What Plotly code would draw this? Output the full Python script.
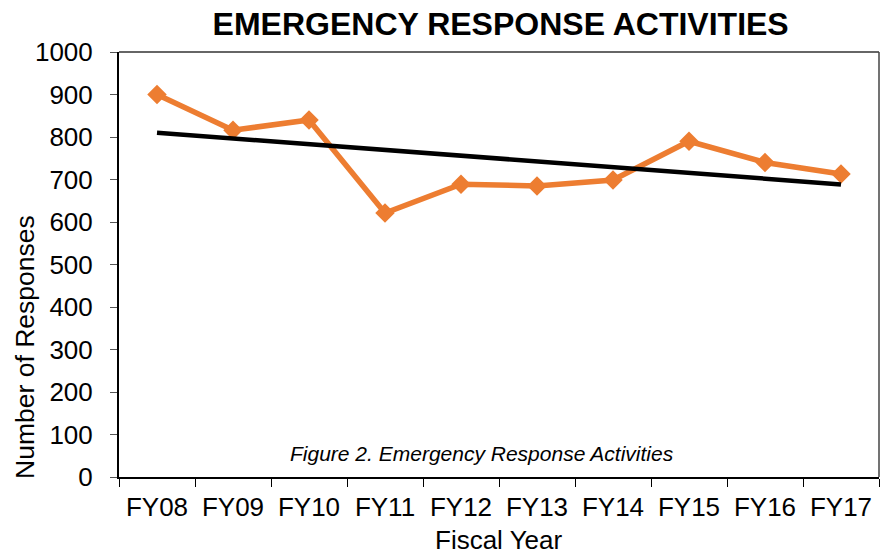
import numpy as np
import plotly.graph_objects as go

categories = ["FY08", "FY09", "FY10", "FY11", "FY12", "FY13", "FY14", "FY15", "FY16", "FY17"]
responses = [900, 816, 840, 621, 689, 685, 699, 790, 740, 713]

# Linear trendline fitted to the data (as in the original spreadsheet chart)
xi = np.arange(len(responses))
slope, intercept = np.polyfit(xi, responses, 1)
trend = (slope * xi + intercept).tolist()

FONT = "Liberation Sans, Arial, sans-serif"

fig = go.Figure()
fig.add_trace(go.Scatter(
    x=categories, y=responses, mode="lines+markers",
    line=dict(color="#ED7D31", width=5.5),
    marker=dict(symbol="diamond", size=15, color="#ED7D31"),
    showlegend=False,
))
fig.add_trace(go.Scatter(
    x=categories, y=trend, mode="lines",
    line=dict(color="#000000", width=4.5),
    showlegend=False,
))

fig.update_layout(
    width=883, height=556,
    margin=dict(l=119, r=4, t=52, b=79),
    paper_bgcolor="white", plot_bgcolor="white",
    font=dict(family=FONT, color="#000000"),
    title=dict(text="<b>EMERGENCY RESPONSE ACTIVITIES</b>",
               font=dict(family=FONT, size=32, color="#000"),
               x=0.567, xanchor="center", y=0.958, yanchor="middle"),
    xaxis=dict(
        type="category", range=[-0.5, 9.5],
        tickson="boundaries", ticks="outside", ticklen=8, tickcolor="#000",
        ticklabelstandoff=6,
        showline=True, linecolor="#000", linewidth=2,
        showgrid=False, zeroline=False,
        tickfont=dict(family=FONT, size=26, color="#000"),
    ),
    yaxis=dict(
        range=[0, 1000], tickmode="linear", tick0=0, dtick=100,
        ticks="outside", ticklen=7, tickcolor="#555",
        ticklabelstandoff=12,
        showline=True, linecolor="#000", linewidth=2,
        showgrid=False, zeroline=False,
        tickfont=dict(family=FONT, size=26, color="#000"),
    ),
    annotations=[
        dict(text="<i>Figure 2. Emergency Response Activities</i>",
             xref="paper", yref="y", x=0.478, y=56, xanchor="center", yanchor="middle",
             showarrow=False, font=dict(family=FONT, size=21, color="#000")),
        dict(text="Fiscal Year", xref="paper", yref="paper", x=0.5, y=-0.148,
             xanchor="center", yanchor="middle", showarrow=False, borderpad=0,
             font=dict(family=FONT, size=26, color="#000")),
        dict(text="Number of Responses", xref="paper", yref="paper", x=-0.1237, y=0.306,
             xanchor="center", yanchor="middle", textangle=-90, showarrow=False,
             font=dict(family=FONT, size=26.5, color="#000")),
    ],
    shapes=[
        dict(type="line", xref="paper", yref="paper", x0=0, x1=1, y0=1, y1=1,
             line=dict(color="#666", width=2)),
        dict(type="line", xref="paper", yref="paper", x0=1, x1=1, y0=0, y1=1,
             line=dict(color="#444", width=1.5)),
    ],
)

fig.write_html("out.html", config={"displayModeBar": False},
               post_script="document.body.style.margin='0';")
